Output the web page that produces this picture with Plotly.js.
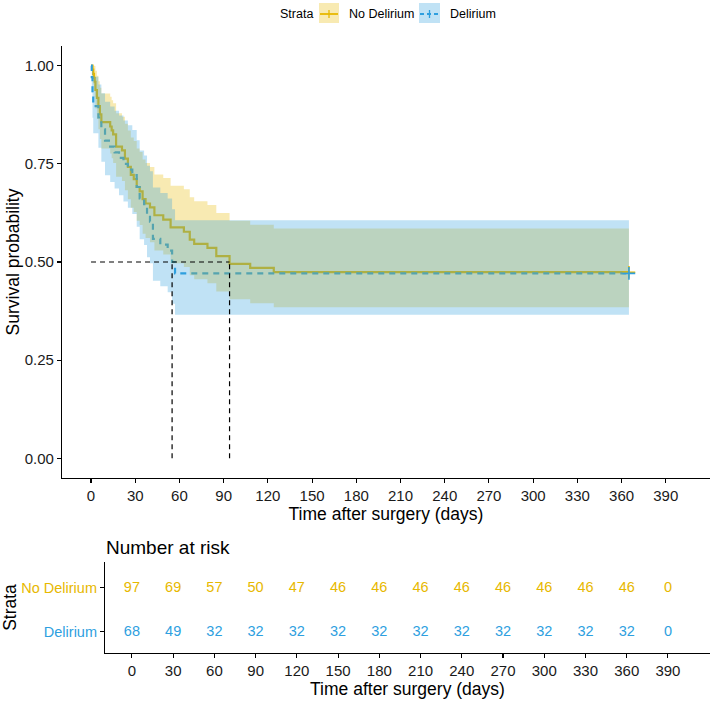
<!DOCTYPE html>
<html>
<head>
<meta charset="utf-8">
<script src="https://cdn.plot.ly/plotly-3.0.1.min.js"></script>
<style>
  html, body { margin: 0; padding: 0; background: #ffffff; }
  #chart { width: 714px; height: 705px; }
</style>
</head>
<body>
<div id="chart"></div>
<script>
// Kaplan–Meier estimates: step times (days), survival after each step, 95% CI bounds
const ndTime  = [0, 1, 1.5, 2, 2.5, 3, 4, 5, 6, 7, 13, 14, 15, 17, 21, 23, 25, 27, 29, 31, 33, 35, 37, 40, 43, 49, 54, 63, 67, 70, 79, 85, 94, 108, 124, 365];
const ndSurv  = [1, .990, .979, .969, .959, .938, .918, .897, .876, .856, .845, .835, .825, .794, .784, .763, .742, .722, .711, .691, .680, .660, .649, .639, .619, .608, .588, .577, .557, .546, .536, .515, .495, .485, .474, .474];
const ndUpper = [1, 1, 1, 1, .999, .987, .974, .960, .944, .929, .921, .912, .904, .879, .870, .852, .835, .817, .808, .789, .780, .761, .752, .742, .723, .714, .694, .685, .665, .655, .645, .625, .605, .595, .585, .585];
const ndLower = [1, .970, .952, .935, .920, .891, .864, .838, .813, .789, .776, .764, .752, .717, .706, .683, .660, .638, .627, .605, .594, .572, .561, .550, .529, .519, .497, .487, .466, .456, .446, .425, .405, .395, .385, .385];

const delTime  = [0, 0.5, 1, 1.5, 5, 7, 9.5, 13, 16, 19, 22, 25, 28, 31, 33, 36, 38, 40, 42, 47, 52, 55, 57, 365];
const delSurv  = [1, .971, .926, .897, .868, .838, .809, .794, .779, .765, .750, .735, .721, .691, .662, .647, .618, .603, .559, .544, .529, .500, .471, .471];
const delUpper = [1, 1, .991, .972, .952, .930, .908, .896, .885, .873, .860, .848, .836, .810, .784, .771, .745, .731, .690, .676, .662, .634, .606, .606];
const delLower = [1, .931, .867, .828, .791, .755, .721, .704, .687, .670, .654, .638, .622, .590, .558, .543, .512, .497, .452, .438, .423, .394, .366, .366];

// Median survival times per stratum (days) and the survival level they are read at
const strata = ['No Delirium', 'Delirium'];
const medianTimes = [94, 55];
const medianLevel = 0.5;

// Number-at-risk table
const riskTimes = [0, 30, 60, 90, 120, 150, 180, 210, 240, 270, 300, 330, 360, 390];
const ndRisk  = [97, 69, 57, 50, 47, 46, 46, 46, 46, 46, 46, 46, 46, 0];
const delRisk = [68, 49, 32, 32, 32, 32, 32, 32, 32, 32, 32, 32, 32, 0];

const yTicks = [0, 0.25, 0.5, 0.75, 1];
const yTickText = ['0.00', '0.25', '0.50', '0.75', '1.00'];

// ---- styling ----
const ND_COL = '#E7B800';
const DEL_COL = '#2E9FDF';
const ND_FILL = 'rgba(231,184,0,0.3)';
const DEL_FILL = 'rgba(46,159,223,0.3)';
const FONT = 'Liberation Sans, Arial, Helvetica, sans-serif';
const W = 714, H = 705;
const px = v => v / W;
const py = v => 1 - v / H;

const last = a => a[a.length - 1];

// curves first, confidence ribbons drawn over them, then censor marks
const traces = [];
function curve(x, y, color, dash) {
  return { x, y, type: 'scatter', mode: 'lines', xaxis: 'x', yaxis: 'y',
    line: { shape: 'hv', color, width: 2.2, dash: dash || 'solid' },
    hoverinfo: 'skip', showlegend: false };
}
function bound(x, y, fillcolor) {
  const t = { x, y, type: 'scatter', mode: 'lines', xaxis: 'x', yaxis: 'y',
    line: { shape: 'hv', width: 0, color: 'rgba(0,0,0,0)' },
    hoverinfo: 'skip', showlegend: false };
  if (fillcolor) { t.fill = 'tonexty'; t.fillcolor = fillcolor; }
  return t;
}
traces.push(curve(ndTime, ndSurv, ND_COL));
traces.push(curve(delTime, delSurv, DEL_COL, '6px,5px'));
traces.push(bound(ndTime, ndLower));
traces.push(bound(ndTime, ndUpper, ND_FILL));
traces.push(bound(delTime, delLower));
traces.push(bound(delTime, delUpper, DEL_FILL));

// censoring marks at the end of follow-up
[[ndTime, ndSurv, ND_COL], [delTime, delSurv, DEL_COL]].forEach(([t, s, c]) => {
  traces.push({ x: [last(t)], y: [last(s)], type: 'scatter', mode: 'markers',
    xaxis: 'x', yaxis: 'y', hoverinfo: 'skip', showlegend: false,
    marker: { symbol: 'cross-thin', size: 9, line: { color: c, width: 1.6 } } });
});

// median survival guide lines
const medX = [0, Math.max(...medianTimes)];
const medY = [medianLevel, medianLevel];
medianTimes.forEach(m => { medX.push(null, m, m); medY.push(null, 0, medianLevel); });
traces.push({ x: medX, y: medY, type: 'scatter', mode: 'lines', xaxis: 'x', yaxis: 'y',
  line: { color: '#000000', width: 1.2, dash: '5px,4px' }, connectgaps: false,
  hoverinfo: 'skip', showlegend: false });

// risk table numbers
[[ndRisk, strata[0], ND_COL], [delRisk, strata[1], DEL_COL]].forEach(([vals, name, c]) => {
  traces.push({ x: riskTimes, y: riskTimes.map(() => name), type: 'scatter', mode: 'text',
    xaxis: 'x2', yaxis: 'y2', text: vals.map(String), textposition: 'middle center',
    textfont: { family: FONT, size: 14.5, color: c }, hoverinfo: 'skip', showlegend: false });
});

const axisBase = {
  showline: true, linecolor: '#000000', linewidth: 1.1, mirror: false,
  ticks: 'outside', ticklen: 4, tickwidth: 1.1, tickcolor: '#000000',
  showgrid: false, zeroline: false, fixedrange: true,
  tickfont: { family: FONT, size: 15, color: '#1a1a1a' }
};

const layout = {
  width: W, height: H,
  margin: { l: 0, r: 0, t: 0, b: 0, pad: 0 },
  paper_bgcolor: '#ffffff', plot_bgcolor: '#ffffff',
  font: { family: FONT, color: '#000000' },
  showlegend: false,
  xaxis: Object.assign({}, axisBase, {
    domain: [px(62), px(710)], range: [-19.7, 420], anchor: 'y',
    tickmode: 'array', tickvals: riskTimes,
    title: { text: 'Time after surgery (days)', font: { family: FONT, size: 17.5, color: '#000' }, standoff: 2 }
  }),
  yaxis: Object.assign({}, axisBase, {
    domain: [py(478), py(46)], range: [-0.05, 1.05], anchor: 'x',
    tickmode: 'array', tickvals: yTicks, ticktext: yTickText,
    title: { text: 'Survival probability', font: { family: FONT, size: 17.5, color: '#000' }, standoff: 0 }
  }),
  xaxis2: Object.assign({}, axisBase, {
    domain: [px(105), px(710)], range: [-19.6, 420.6], anchor: 'y2',
    tickmode: 'array', tickvals: riskTimes,
    title: { text: 'Time after surgery (days)', font: { family: FONT, size: 17.5, color: '#000' }, standoff: 2 }
  }),
  yaxis2: Object.assign({}, axisBase, {
    domain: [py(653), py(562)], anchor: 'x2',
    type: 'category', categoryorder: 'array', categoryarray: strata.slice().reverse(),
    range: [-0.48, 1.59],
    tickmode: 'array', tickvals: strata,
    ticktext: strata.map((s, i) => `<span style="color:${i === 0 ? ND_COL : DEL_COL}">${s}</span>`),
    tickfont: { family: FONT, size: 14.5 },
    title: { text: 'Strata', font: { family: FONT, size: 17.5, color: '#000' }, standoff: 0 }
  }),
  annotations: [
    { text: 'Number at risk', xref: 'paper', yref: 'paper', x: px(104), y: py(547),
      xanchor: 'left', yanchor: 'middle', showarrow: false,
      font: { family: FONT, size: 19, color: '#000' } },
    { text: 'Strata', xref: 'paper', yref: 'paper', x: px(278), y: py(14),
      xanchor: 'left', yanchor: 'middle', showarrow: false,
      font: { family: FONT, size: 12.5, color: '#000' } },
    { text: strata[0], xref: 'paper', yref: 'paper', x: px(347), y: py(14),
      xanchor: 'left', yanchor: 'middle', showarrow: false,
      font: { family: FONT, size: 12.5, color: '#000' } },
    { text: strata[1], xref: 'paper', yref: 'paper', x: px(448), y: py(14),
      xanchor: 'left', yanchor: 'middle', showarrow: false,
      font: { family: FONT, size: 12.5, color: '#000' } }
  ],
  shapes: []
};

// legend keys: ribbon swatch, line and censor cross
function legendKey(x0, x1, fill, color, dash) {
  const xm = (x0 + x1) / 2;
  layout.shapes.push(
    { type: 'rect', xref: 'paper', yref: 'paper', x0: px(x0), x1: px(x1), y0: py(23), y1: py(3),
      fillcolor: fill, line: { width: 0 }, layer: 'above' },
    { type: 'line', xref: 'paper', yref: 'paper', x0: px(x0 + 1), x1: px(x1 - 1), y0: py(14), y1: py(14),
      line: { color, width: 1.8, dash: dash || 'solid' }, layer: 'above' },
    { type: 'line', xref: 'paper', yref: 'paper', x0: px(xm), x1: px(xm), y0: py(10), y1: py(18),
      line: { color, width: 1.3 }, layer: 'above' }
  );
}
legendKey(319, 339, ND_FILL, ND_COL);
legendKey(419, 440, DEL_FILL, DEL_COL, '4px,3px');

Plotly.newPlot('chart', traces, layout, { staticPlot: true, displayModeBar: false });
</script>
</body>
</html>
